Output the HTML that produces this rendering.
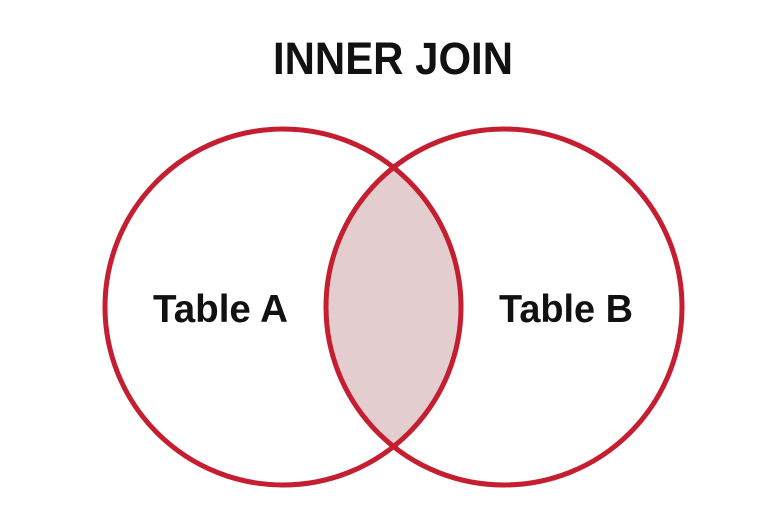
<!DOCTYPE html>
<html><head><style>
html,body{margin:0;padding:0;background:#fff;}
svg{display:block;}
</style></head><body>
<svg width="779" height="512" viewBox="0 0 779 512" xmlns="http://www.w3.org/2000/svg">
<defs>
<clipPath id="cl"><circle cx="283" cy="307" r="178"/></clipPath>
</defs>
<circle cx="504" cy="307" r="178" fill="#e4cdce" clip-path="url(#cl)"/>
<circle cx="283" cy="307" r="178" fill="none" stroke="#c41e30" stroke-width="5"/>
<circle cx="504" cy="307" r="178" fill="none" stroke="#c41e30" stroke-width="5"/>
<text x="273" y="74" textLength="240" lengthAdjust="spacingAndGlyphs" font-family="Liberation Sans, sans-serif" font-weight="bold" font-size="45" fill="#111">INNER JOIN</text>
<text x="153" y="322" textLength="135" lengthAdjust="spacingAndGlyphs" font-family="Liberation Sans, sans-serif" font-weight="bold" font-size="39" fill="#111">Table A</text>
<text x="499" y="322" textLength="134" lengthAdjust="spacingAndGlyphs" font-family="Liberation Sans, sans-serif" font-weight="bold" font-size="39" fill="#111">Table B</text>
</svg>
</body></html>
